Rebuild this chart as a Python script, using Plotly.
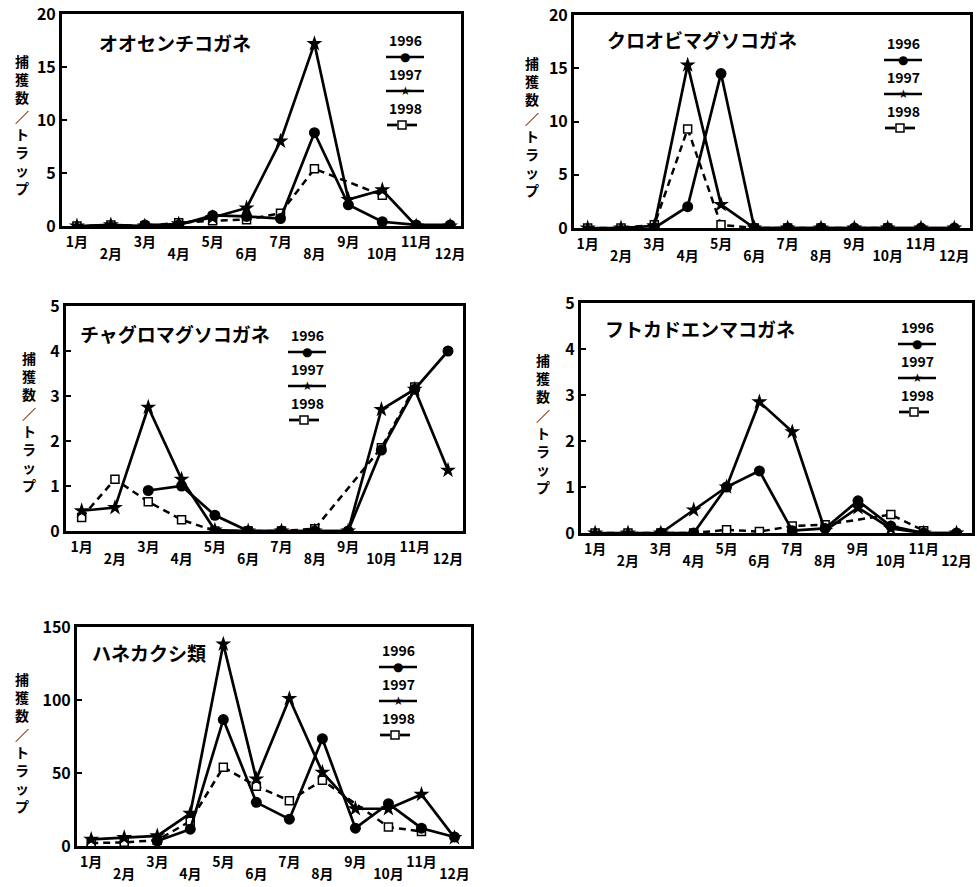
import plotly.graph_objects as go

# ---------------- data ----------------
MONTHS = ["1月", "2月", "3月", "4月", "5月", "6月", "7月", "8月", "9月", "10月", "11月", "12月"]
YEARS = ["1996", "1997", "1998"]
TITLES = ["オオセンチコガネ", "クロオビマグソコガネ", "チャグロマグソコガネ", "フトカドエンマコガネ", "ハネカクシ類"]
Y_TITLE = "捕獲数／トラップ"
Y_MAX = [20, 20, 5, 5, 150]
Y_DTICK = [5, 5, 1, 1, 50]

# オオセンチコガネ
p1_1996 = [None, None, 0.1, 0.1, 1.0, 0.9, 0.7, 8.8, 2.0, 0.4, 0.1, 0.1]
p1_1997 = [0, 0.1, 0, 0.2, 0.8, 1.7, 8.0, 17.2, 2.5, 3.4, 0, 0]
p1_1998 = [0, 0.1, 0, 0.3, 0.5, 0.6, 1.2, 5.4, None, 2.9, None, None]
# クロオビマグソコガネ
p2_1996 = [None, None, 0, 2.0, 14.5, 0, 0, 0, 0, 0, 0, 0]
p2_1997 = [0, 0, 0.2, 15.3, 2.2, 0, 0, 0, 0, 0, 0, 0]
p2_1998 = [0, 0, 0.3, 9.3, 0.3, 0, 0, 0, None, 0, None, None]
# チャグロマグソコガネ
p3_1996 = [None, None, 0.9, 1.0, 0.35, 0, 0, 0, 0, 1.8, 3.15, 4.0]
p3_1997 = [0.45, 0.52, 2.75, 1.15, 0.02, 0, 0, 0, 0, 2.7, 3.15, 1.35]
p3_1998 = [0.3, 1.15, 0.65, 0.25, 0, 0, 0, 0.05, None, 1.85, 3.2, None]
# フトカドエンマコガネ
p4_1996 = [None, None, 0, 0, 1.0, 1.35, 0.05, 0.1, 0.7, 0.15, 0, 0]
p4_1997 = [0, 0, 0, 0.5, 1.0, 2.85, 2.2, 0.05, 0.55, 0.1, 0, 0]
p4_1998 = [0, 0, 0, 0, 0.07, 0.03, 0.15, 0.18, None, 0.4, 0.05, None]
# ハネカクシ類
p5_1996 = [None, None, 3.4, 11.5, 86.6, 29.9, 18.4, 73.5, 12.2, 29.0, 12.2, 6.2]
p5_1997 = [4.6, 5.7, 6.9, 22.3, 138.3, 45.9, 101, 50.5, 25.5, 25.5, 35.3, 5.7]
p5_1998 = [2, 2.5, 4, 17, 54, 41, 31, 45, None, 13, 10, None]

SERIES = [
    (p1_1996, p1_1997, p1_1998),
    (p2_1996, p2_1997, p2_1998),
    (p3_1996, p3_1997, p3_1998),
    (p4_1996, p4_1997, p4_1998),
    (p5_1996, p5_1997, p5_1998),
]

# ---------------- layout (pixels) ----------------
W, H = 977, 887
FRAMES = [  # left, right, top, bottom
    (62, 461, 14, 226),
    (574, 970, 15, 228),
    (66, 463, 306, 531),
    (581, 972, 303, 533),
    (77, 471, 627, 846),
]
XRANGES = [(-0.44, 11.32), (-0.41, 11.47), (-0.47, 11.45), (-0.43, 11.47), (-0.43, 11.5)]
TITLE_POS = [(97, 42), (605, 40), (78, 333), (603, 328), (90, 652)]
YTITLE_POS = [(22, 125), (532, 126), (29, 421), (543, 423), (22, 742)]
LEG_POS = [(405, 40), (903, 43), (307, 335), (917, 327), (398, 650)]
LEG_STEP = 17
FONT = "Noto Sans CJK JP"
TICKFONT_X = dict(family=FONT, size=14, color="black", weight="bold")
TICKFONT_Y = dict(family=FONT, size=16, color="black", weight="bold")


def px(x):
    return x / W


def py(y):
    return 1 - y / H


fig = go.Figure()
layout = {}
annotations = []
shapes = []

odd_months = MONTHS[0::2]
even_months = MONTHS[1::2]
NP = len(SERIES)

for i, (s96, s97, s98) in enumerate(SERIES):
    n = i + 1
    xa = "x" if n == 1 else f"x{n}"
    ya = "y" if n == 1 else f"y{n}"
    n2 = n + NP
    xa2 = f"x{n2}"
    l, r, t, b = FRAMES[i]
    fig.add_trace(go.Scatter(
        x=MONTHS, y=s98, mode="lines+markers", name=YEARS[2], connectgaps=True,
        line=dict(color="black", width=2.5, dash="7px,5px"),
        marker=dict(symbol="square", size=8, color="white", line=dict(color="black", width=1.5)),
        xaxis=xa, yaxis=ya, showlegend=False))
    fig.add_trace(go.Scatter(
        x=MONTHS, y=s97, mode="lines+markers", name=YEARS[1],
        line=dict(color="black", width=2.7),
        marker=dict(symbol="star", size=12, color="black"),
        xaxis=xa, yaxis=ya, showlegend=False))
    fig.add_trace(go.Scatter(
        x=MONTHS, y=s96, mode="lines+markers", name=YEARS[0],
        line=dict(color="black", width=2.7),
        marker=dict(symbol="circle", size=11, color="black"),
        xaxis=xa, yaxis=ya, showlegend=False))
    # empty helper trace so the second label row axis gets drawn (no visible marks)
    fig.add_trace(go.Scatter(
        x=MONTHS, y=[None] * len(MONTHS), mode="lines", hoverinfo="skip",
        xaxis=xa2, yaxis=ya, showlegend=False))

    xkey = "xaxis" if n == 1 else f"xaxis{n}"
    ykey = "yaxis" if n == 1 else f"yaxis{n}"
    layout[xkey] = dict(
        domain=[px(l), px(r)], anchor=ya, type="category",
        categoryorder="array", categoryarray=MONTHS, automargin=False,
        range=list(XRANGES[i]), tickmode="array", tickvals=odd_months, ticktext=odd_months,
        showline=True, mirror=True, linewidth=3, linecolor="black",
        showgrid=False, zeroline=False, ticks="", ticklabelstandoff=1,
        tickfont=TICKFONT_X,
    )
    layout[f"xaxis{n2}"] = dict(
        domain=[px(l), px(r)], anchor=ya, overlaying=xa, type="category",
        categoryorder="array", categoryarray=MONTHS, automargin=False,
        range=list(XRANGES[i]), tickmode="array", tickvals=even_months, ticktext=even_months,
        showline=False, showgrid=False, zeroline=False, ticks="", ticklabelstandoff=18,
        tickfont=TICKFONT_X,
    )
    layout[ykey] = dict(
        domain=[py(b), py(t)], anchor=xa, range=[0, Y_MAX[i]], dtick=Y_DTICK[i],
        automargin=False,
        showline=True, mirror=True, linewidth=3, linecolor="black",
        showgrid=False, zeroline=False, ticks="inside", ticklen=5, tickwidth=2,
        tickcolor="black", tickfont=TICKFONT_Y,
    )

    tx, ty = TITLE_POS[i]
    annotations.append(dict(
        x=px(tx), y=py(ty), xref="paper", yref="paper", xanchor="left", yanchor="middle",
        text=TITLES[i], showarrow=False,
        font=dict(family=FONT, size=19, color="black", weight="bold")))
    yx, yy = YTITLE_POS[i]
    annotations.append(dict(
        x=px(yx), y=py(yy), xref="paper", yref="paper", xanchor="center", yanchor="middle",
        text="<br>".join(Y_TITLE), showarrow=False,
        font=dict(family=FONT, size=14, color="black", weight="bold")))

    cx, cy = LEG_POS[i]
    for k, yr in enumerate(YEARS):
        yt = cy + 2 * k * LEG_STEP
        ys = yt + LEG_STEP
        annotations.append(dict(
            x=px(cx), y=py(yt), xref="paper", yref="paper", xanchor="center", yanchor="middle",
            text=yr, showarrow=False,
            font=dict(family=FONT, size=14, color="black", weight="bold")))
        if k < 2:
            shapes.append(dict(type="line", xref="paper", yref="paper",
                               x0=px(cx - 19), x1=px(cx + 19), y0=py(ys), y1=py(ys),
                               line=dict(color="black", width=2.7)))
            glyph = "●" if k == 0 else "★"
            annotations.append(dict(
                x=px(cx), y=py(ys), xref="paper", yref="paper", xanchor="center", yanchor="middle",
                text=glyph, showarrow=False,
                font=dict(family="DejaVu Sans", size=12, color="black")))
        else:
            shapes.append(dict(type="line", xref="paper", yref="paper",
                               x0=px(cx - 18), x1=px(cx - 8), y0=py(ys), y1=py(ys),
                               line=dict(color="black", width=2.7)))
            shapes.append(dict(type="line", xref="paper", yref="paper",
                               x0=px(cx + 2), x1=px(cx + 12), y0=py(ys), y1=py(ys),
                               line=dict(color="black", width=2.7)))
            shapes.append(dict(type="rect", xref="paper", yref="paper",
                               x0=px(cx - 7), x1=px(cx + 1), y0=py(ys + 4), y1=py(ys - 4),
                               line=dict(color="black", width=1.5), fillcolor="white"))

fig.update_layout(
    width=W, height=H, margin=dict(l=0, r=0, t=0, b=0),
    paper_bgcolor="white", plot_bgcolor="white",
    showlegend=False, annotations=annotations, shapes=shapes,
    font=dict(family=FONT, color="black"),
    **layout,
)

fig.write_html("out.html")
